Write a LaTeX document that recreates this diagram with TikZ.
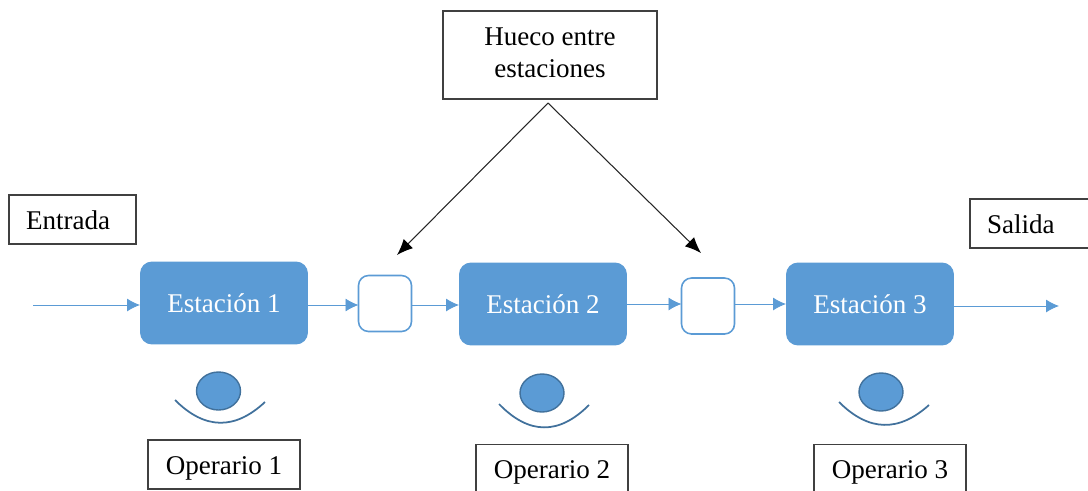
\documentclass[tikz,border=0pt]{standalone}
\usepackage{fontspec}
\setmainfont{Liberation Serif}
\usepackage{tikz}
\usetikzlibrary{arrows.meta}
\usetikzlibrary{shapes.geometric}
\definecolor{azul}{HTML}{5B9BD5}
\definecolor{azulosc}{HTML}{41719C}

\begin{document}
\begin{tikzpicture}[x=.02cm, y=-.02cm,
  estacion/.style={rectangle, rounded corners=.24cm, fill=azul, text=white, minimum width=3.36cm, minimum height=1.66cm, inner sep=0pt, outer sep=0pt, font=\fontsize{15.4}{18}\selectfont},
  hueco/.style={rectangle, rounded corners=.2cm, draw=azul, line width=.9pt, fill=white, minimum width=1.06cm, minimum height=1.12cm, inner sep=0pt, outer sep=0pt},
  etiqueta/.style={rectangle, draw=black!75, line width=.7pt, fill=white, minimum height=.98cm, inner sep=0pt, outer sep=0pt, font=\fontsize{15.4}{18.2}\selectfont},
  rotulo/.style={etiqueta, text height=.48cm, text depth=.1cm},
  operario/.style={rotulo, minimum width=3.04cm},
  cabeza/.style={ellipse, draw=azulosc, line width=.8pt, fill=azul, minimum width=.88cm, minimum height=.76cm, inner sep=0pt},
  brazos/.style={draw=azulosc, line width=1pt},
  flujo/.style={draw=azul, line width=.5pt, -{Latex[length=.26cm, width=.26cm]}},
  flecha/.style={draw=black!85, line width=.6pt, -{Latex[length=.32cm, width=.26cm, black]}}]
\clip (0,0) rectangle (1088,490);
\useasboundingbox (0,0) rectangle (1088,490);

\node [estacion] (est1) at (224,303) {Estación 1};
\node [estacion] (est2) at (543,304) {Estación 2};
\node [estacion] (est3) at (870,304) {Estación 3};
\node [hueco] (h1) at (385,303.5) {};
\node [hueco] (h2) at (708,306) {};

\node [rotulo, minimum width=2.54cm, text width=1.86cm, align=left] (entrada) at (72.5,219.5) {Entrada};
\node [rotulo, minimum width=2.6cm, text width=1.92cm, align=left] (salida) at (1035,223.5) {Salida};
\node [etiqueta, minimum width=4.28cm, minimum height=1.76cm, text depth=.11cm, align=center] (nota) at (550,55) {Hueco entre\\estaciones};

\node [operario] (op1) at (224,464.5) {Operario 1};
\node [operario] (op2) at (552,469) {Operario 2};
\node [operario] (op3) at (890,469) {Operario 3};

\node [cabeza] (cab1) at (218.5,391) {};
\node [cabeza] (cab2) at (542,393) {};
\node [cabeza] (cab3) at (881,392) {};

\draw [brazos] (175,400) .. controls (205,430) and (235,430) .. (265,402);
\draw [brazos] (499,404) .. controls (529,435) and (559,435) .. (589,405);
\draw [brazos] (839,402) .. controls (869,432) and (899,432) .. (929,405);

\coordinate (in) at (33,305);
\coordinate (out) at (1059,306);
\coordinate (vertice) at (548,103);
\coordinate (p1) at (397,255);
\coordinate (p2) at (701,253);

\draw [flujo] (in) -- (est1.west |- in);
\draw [flujo] (est1.east |- in) -- (h1.west |- in);
\draw [flujo] (h1.east |- in) -- (est2.west |- in);
\draw [flujo] (est2.east) -- (h2.west |- est2.east);
\draw [flujo] (h2.east |- est3.east) -- (est3.west);
\draw [flujo] (est3.east |- out) -- (out);
\draw [flecha] (vertice) -- (p1);
\draw [flecha] (vertice) -- (p2);
\end{tikzpicture}
\end{document}
